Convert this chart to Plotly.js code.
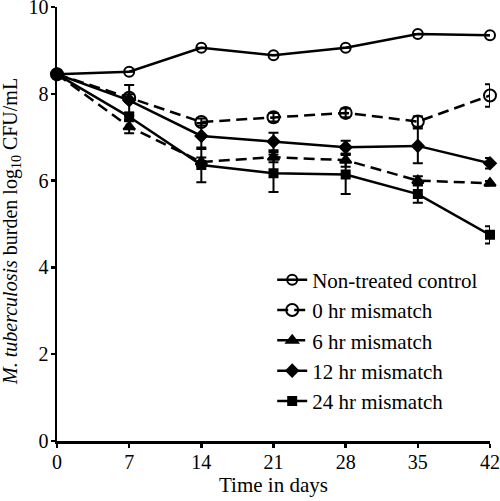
<!DOCTYPE html>
<html>
<head>
<meta charset="utf-8">
<script src="https://cdn.plot.ly/plotly-3.0.1.min.js"></script>
<style>html,body{margin:0;padding:0;background:#fff;}#chart{width:500px;height:501px;}</style>
</head>
<body>
<div id="chart"></div>
<script>
const days = [0, 7, 14, 21, 28, 35, 42];
const seriesNames = ["Non-treated control", "0 hr mismatch", "6 hr mismatch", "12 hr mismatch", "24 hr mismatch"];
const control = [8.45, 8.51, 9.06, 8.89, 9.06, 9.38, 9.35];
const controlErr = [0, 0, 0, 0, 0, 0, 0];
const mm0 = [8.45, 7.91, 7.35, 7.46, 7.56, 7.36, 7.96];
const mm0Err = [0, 0.08, 0.08, 0.1, 0.1, 0.12, 0.26];
const mm6 = [8.45, 7.24, 6.43, 6.54, 6.47, 6.0, 5.94];
const mm6Err = [0, 0.15, 0.1, 0.12, 0.15, 0.1, 0.05];
const mm12 = [8.45, 7.85, 7.03, 6.9, 6.77, 6.8, 6.4];
const mm12Err = [0, 0.35, 0.3, 0.2, 0.15, 0.4, 0.12];
const mm24 = [8.45, 7.47, 6.36, 6.17, 6.14, 5.69, 4.75];
const mm24Err = [0, 0.1, 0.4, 0.43, 0.45, 0.2, 0.2];
const xTicks = [0, 7, 14, 21, 28, 35, 42];
const yTicks = [0, 2, 4, 6, 8, 10];

const font = "'Liberation Serif', 'Times New Roman', serif";
function mk(name, y, err, symbol, size, dash, i) {
  return {
    x: days, y: y, name: name, type: 'scatter', mode: 'lines+markers',
    legendgroup: 'g' + i,
    line: {color: '#000', width: 2.5, dash: dash},
    marker: {symbol: symbol, size: size, color: '#000', line: {color: '#000', width: 2}},
    error_y: {type: 'data', array: err, visible: true, color: '#000', thickness: 2, width: 5},
    cliponaxis: false
  };
}
const data = [
  mk(seriesNames[0], control, controlErr, 'circle-open', 10, 'solid', 0),
  mk(seriesNames[1], mm0, mm0Err, 'circle-open', 12, '11px,6px', 1),
  mk(seriesNames[2], mm6, mm6Err, 'triangle-up', 10, '11px,6px', 2),
  mk(seriesNames[3], mm12, mm12Err, 'diamond', 9, 'solid', 3),
  mk(seriesNames[4], mm24, mm24Err, 'square', 8, 'solid', 4)
];
const layout = {
  width: 500, height: 501,
  margin: {l: 57, r: 10, t: 7, b: 60},
  paper_bgcolor: '#fff', plot_bgcolor: '#fff',
  font: {family: font, size: 20, color: '#000'},
  showlegend: true,
  legend: {x: 0.497, y: 0.418, xanchor: 'left', yanchor: 'top', font: {family: font, size: 21, color: '#000'},
           bgcolor: 'rgba(0,0,0,0)', tracegroupgap: 0, traceorder: 'normal'},
  xaxis: {range: [0, 42], tickvals: xTicks, ticktext: xTicks.map(String), showgrid: false, zeroline: false,
          showline: true, linecolor: '#000', linewidth: 2.5, ticks: 'outside', ticklen: 4, tickwidth: 2.5, tickcolor: '#000',
          ticklabelstandoff: -3, ticklabeloverflow: 'allow',
          tickfont: {family: font, size: 20}, title: {text: 'Time in days', font: {family: font, size: 21}, standoff: 6}},
  yaxis: {range: [0, 10.0001], tickvals: yTicks, ticktext: yTicks.map(String), showgrid: false, zeroline: false,
          showline: true, linecolor: '#000', linewidth: 2.5, ticks: 'outside', ticklen: 4, tickwidth: 2.5, tickcolor: '#000',
          ticklabelstandoff: -2, ticklabeloverflow: 'allow',
          tickfont: {family: font, size: 20}},
  annotations: [{
    text: '<i>M. tuberculosis</i> burden log<sub>10</sub> CFU/mL',
    xref: 'paper', yref: 'paper', x: -0.104, y: 0.484, xanchor: 'center', yanchor: 'middle',
    textangle: -90, showarrow: false, font: {family: font, size: 20, color: '#000'}
  }]
};
Plotly.newPlot('chart', data, layout, {staticPlot: true});
</script>
</body>
</html>
